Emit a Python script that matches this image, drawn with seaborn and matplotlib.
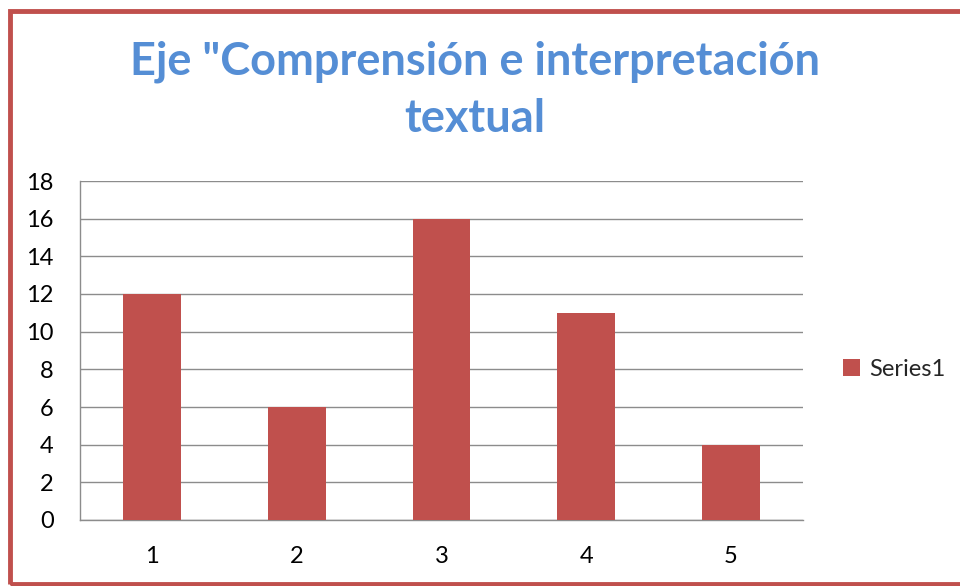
import matplotlib
matplotlib.use("Agg")
import matplotlib.pyplot as plt
from matplotlib.patches import Rectangle
import pandas as pd
import seaborn as sns

# datos del gráfico
categorias = ["1", "2", "3", "4", "5"]
valores = [12, 6, 16, 11, 4]
serie = "Series1"
titulo = 'Eje "Comprensión e interpretación\ntextual'
ticks_y = list(range(0, 19, 2))

rojo = "#C0504D"
azul = "#558ED5"

sns.set_style("white")
plt.rcParams["font.family"] = ["Lato", "DejaVu Sans"]

df = pd.DataFrame({"categoria": categorias, "valor": valores})

fig = plt.figure(figsize=(9.6, 5.86), dpi=100)
ax = fig.add_axes([80 / 960, 1 - 520 / 586, (803 - 80) / 960, (520 - 181) / 586])

sns.barplot(data=df, x="categoria", y="valor", color=rojo, width=0.4,
            saturation=1, ax=ax, label=serie, zorder=3, linewidth=0,
            edgecolor="none")

ax.set_ylim(0, 18)
ax.set_yticks(ticks_y)
ax.yaxis.grid(True, color="#8c8c8c", linewidth=1, zorder=0)
ax.set_axisbelow(True)
ax.set_xlabel("")
ax.set_ylabel("")
ax.tick_params(axis="both", labelsize=17, length=0, colors="black")
ax.tick_params(axis="y", pad=19)
ax.tick_params(axis="x", pad=19)
for s in ["top", "right"]:
    ax.spines[s].set_visible(False)
for s in ["left", "bottom"]:
    ax.spines[s].set_color("#8c8c8c")
    ax.spines[s].set_linewidth(1)

# leyenda
handles, labels = ax.get_legend_handles_labels()
fig.legend(handles, labels, loc="center left", bbox_to_anchor=(834 / 960, 1 - 369 / 586),
           frameon=False, fontsize=17, handlelength=0.7, handleheight=0.7,
           handletextpad=0.4, borderaxespad=0)
if ax.get_legend() is not None:
    ax.get_legend().remove()

# título
fig.text(475 / 960, 1 - 90 / 586, titulo, ha="center", va="center", fontsize=32.5,
         fontweight="bold", color=azul, linespacing=1.45)

# borde del gráfico
fig.patches.append(Rectangle((10 / 960, 2 / 586), 1.2, 1 - 13 / 586,
                             transform=fig.transFigure, fill=False,
                             edgecolor=rojo, linewidth=3.5))

fig.savefig("out.png", dpi=100)
